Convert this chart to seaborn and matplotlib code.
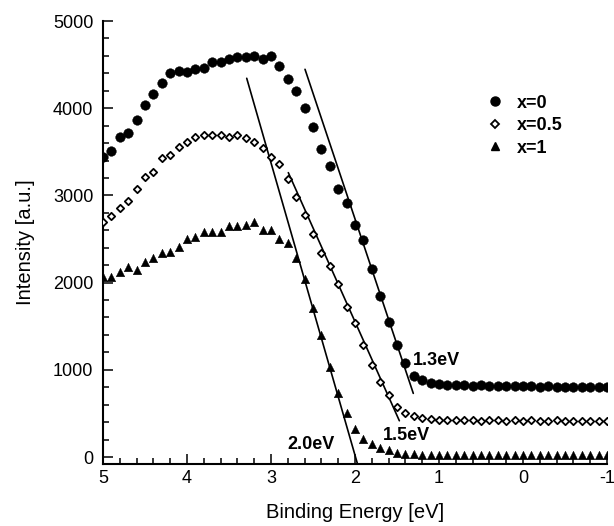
import numpy as np
import pandas as pd
import matplotlib
matplotlib.use("Agg")
import matplotlib.pyplot as plt
from matplotlib.lines import Line2D
from matplotlib.ticker import MultipleLocator
import seaborn as sns

# ---------------- data ----------------
energy = [5.0, 4.9, 4.8, 4.7, 4.6, 4.5, 4.4, 4.3, 4.2, 4.1,
          4.0, 3.9, 3.8, 3.7, 3.6, 3.5, 3.4, 3.3, 3.2, 3.1,
          3.0, 2.9, 2.8, 2.7, 2.6, 2.5, 2.4, 2.3, 2.2, 2.1,
          2.0, 1.9, 1.8, 1.7, 1.6, 1.5, 1.4, 1.3, 1.2, 1.1,
          1.0, 0.9, 0.8, 0.7, 0.6, 0.5, 0.4, 0.3, 0.2, 0.1,
          0.0, -0.1, -0.2, -0.3, -0.4, -0.5, -0.6, -0.7, -0.8, -0.9,
          -1.0]

x0 = [3437, 3509, 3673, 3719, 3865, 4037, 4163, 4293, 4400, 4430,
      4419, 4446, 4465, 4534, 4534, 4561, 4584, 4584, 4603, 4569,
      4599, 4484, 4335, 4195, 3999, 3788, 3532, 3337, 3073, 2917,
      2661, 2485, 2160, 1850, 1552, 1280, 1074, 925, 880, 850,
      835, 830, 825, 822, 820, 822, 818, 820, 815, 812,
      815, 812, 808, 810, 805, 805, 808, 802, 806, 800,
      802]

x05 = [2699, 2764, 2852, 2936, 3070, 3215, 3265, 3425, 3463, 3559,
       3609, 3673, 3693, 3693, 3693, 3673, 3693, 3654, 3616, 3547,
       3444, 3356, 3188, 2985, 2770, 2560, 2336, 2194, 1984, 1724,
       1540, 1284, 1055, 864, 711, 577, 501, 470, 451, 435,
       428, 425, 422, 420, 421, 418, 420, 419, 417, 420,
       418, 419, 417, 418, 420, 417, 418, 416, 418, 417,
       418]

x1 = [2068, 2060, 2125, 2175, 2144, 2240, 2278, 2336, 2355, 2412,
      2496, 2519, 2584, 2584, 2584, 2649, 2649, 2661, 2699, 2603,
      2607, 2500, 2455, 2285, 2038, 1705, 1405, 1036, 738, 508,
      325, 210, 145, 105, 75, 50, 38, 30, 27, 26,
      25, 25, 24, 25, 24, 25, 24, 25, 24, 25,
      24, 25, 24, 25, 24, 25, 24, 25, 24, 25,
      24]

series_labels = ["x=0", "x=0.5", "x=1"]

# linear fits to the leading edges (endpoints)
fit0_x = [2.595, 1.306]
fit0_y = [4446, 730]
fit05_x = [2.794, 1.472]
fit05_y = [3261, 416]
fit1_x = [3.289, 1.972]
fit1_y = [4343, -73]

edge_labels = ["1.3eV", "1.5eV", "2.0eV"]

x_ticks = [5, 4, 3, 2, 1, 0, -1]
x_ticklabels = ["5", "4", "3", "2", "1", "0", "-1"]
y_ticks = [0, 1000, 2000, 3000, 4000, 5000]

# ---------------- style ----------------
sns.set_style("ticks")
plt.rcParams["font.family"] = ["Liberation Sans", "DejaVu Sans"]
plt.rcParams["axes.unicode_minus"] = False
plt.rcParams["text.color"] = "black"
plt.rcParams["axes.labelcolor"] = "black"
plt.rcParams["xtick.color"] = "black"
plt.rcParams["ytick.color"] = "black"

fig = plt.figure(figsize=(6.14, 5.26), dpi=100)
ax = fig.add_axes([103 / 614, 1 - 464 / 526, 504 / 614, 443 / 526])

df = pd.DataFrame({"energy": energy, "x0": x0, "x05": x05, "x1": x1})

sns.scatterplot(data=df, x="energy", y="x0", ax=ax, marker="o", s=48,
                color="black", edgecolor="black", linewidth=0.3, zorder=3)
sns.scatterplot(data=df, x="energy", y="x05", ax=ax, marker="D", s=14,
                color="white", edgecolor="black", linewidth=1.3, zorder=3)
sns.scatterplot(data=df, x="energy", y="x1", ax=ax, marker="^", s=38,
                color="black", edgecolor="black", linewidth=0.3, zorder=3)

for fx, fy in [(fit0_x, fit0_y), (fit05_x, fit05_y), (fit1_x, fit1_y)]:
    sns.lineplot(x=fx, y=fy, ax=ax, color="black", linewidth=1.2,
                 estimator=None, sort=False, zorder=2)

# edge labels
ax.text(1.31, 1112, edge_labels[0], fontsize=13, fontweight="bold",
        ha="left", va="center", color="black")
ax.text(1.667, 252, edge_labels[1], fontsize=13, fontweight="bold",
        ha="left", va="center", color="black")
ax.text(2.81, 138, edge_labels[2], fontsize=13, fontweight="bold",
        ha="left", va="center", color="black")

# axes
ax.set_xlim(5, -1)
ax.set_ylim(-80, 5000)
ax.set_xticks(x_ticks)
ax.set_xticklabels(x_ticklabels)
ax.set_yticks(y_ticks)
ax.xaxis.set_minor_locator(MultipleLocator(0.2))
ax.yaxis.set_minor_locator(MultipleLocator(200))
ax.tick_params(axis="both", which="major", direction="in", length=7,
               width=1.1, labelsize=13, colors="black")
ax.tick_params(axis="both", which="minor", direction="in", length=4,
               width=1.1, colors="black")
ax.tick_params(axis="x", which="major", pad=4)
ax.tick_params(axis="y", which="major", pad=7)

sns.despine(ax=ax)
for sp in ["left", "bottom"]:
    ax.spines[sp].set_linewidth(1.5)
    ax.spines[sp].set_color("black")

ax.set_xlabel("Binding Energy [eV]", fontsize=14.5, labelpad=12, color="black")
ax.set_ylabel("Intensity [a.u.]", fontsize=14.5, labelpad=13, color="black")

# legend
handles = [
    Line2D([], [], linestyle="none", marker="o", markersize=6.5,
           markerfacecolor="black", markeredgecolor="black"),
    Line2D([], [], linestyle="none", marker="D", markersize=3.6,
           markerfacecolor="white", markeredgecolor="black",
           markeredgewidth=1.3),
    Line2D([], [], linestyle="none", marker="^", markersize=6.3,
           markerfacecolor="black", markeredgecolor="black"),
]
leg = ax.legend(handles, series_labels, loc="upper left",
                bbox_to_anchor=(0.737, 0.85), frameon=False,
                prop={"weight": "bold", "size": 13},
                handletextpad=0.45, labelspacing=0.3, handlelength=1.5,
                borderaxespad=0, labelcolor="black")

fig.savefig("out.png", dpi=100)
